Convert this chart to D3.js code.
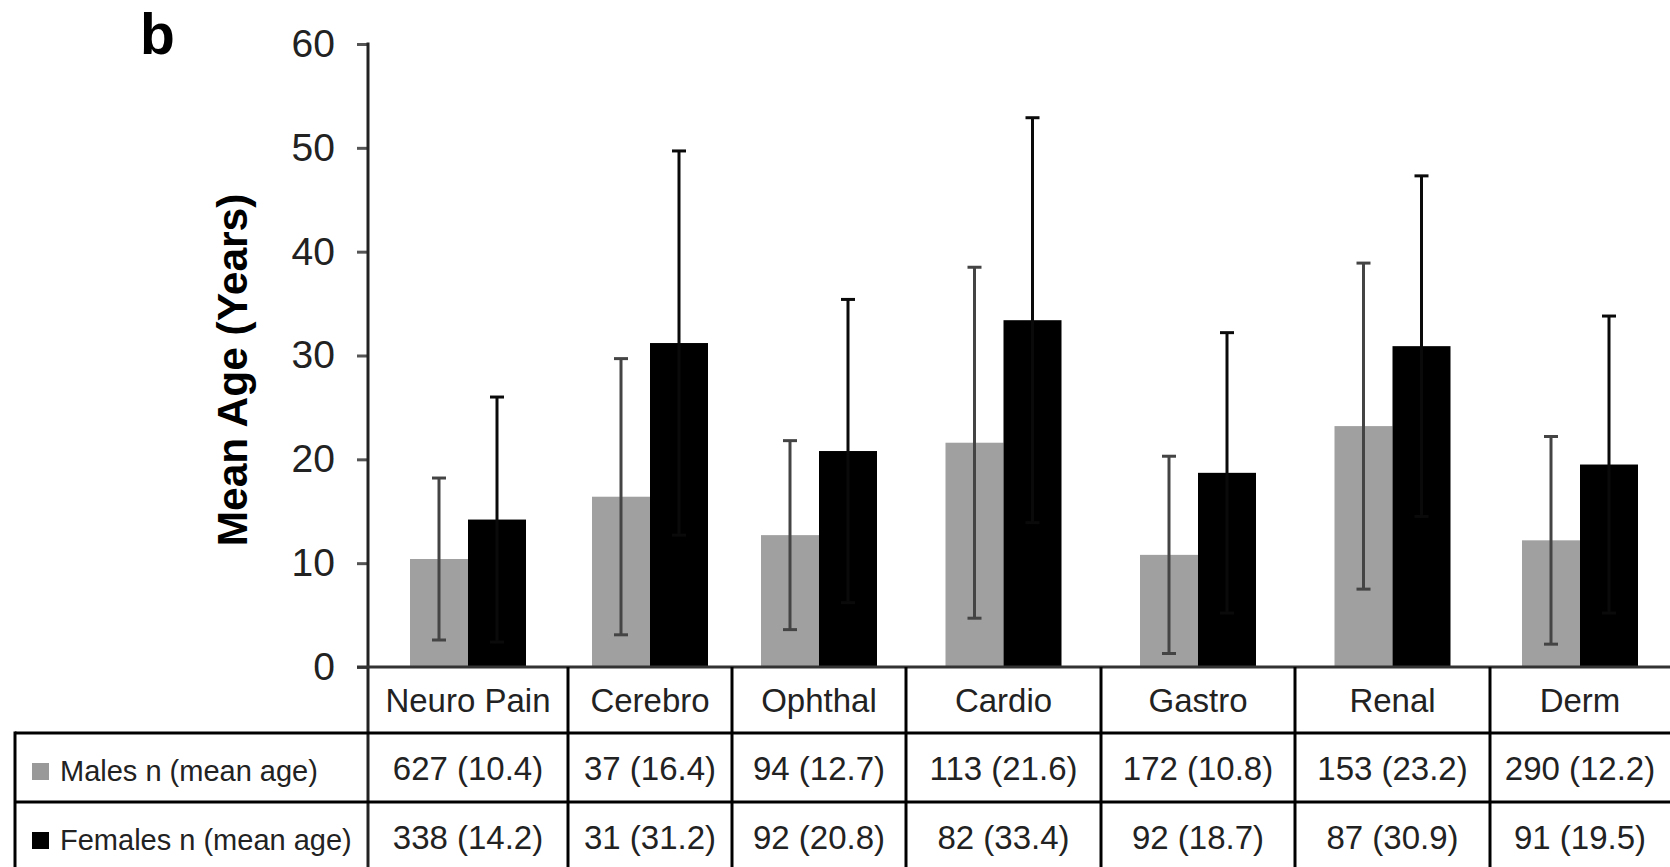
<!DOCTYPE html>
<html>
<head>
<meta charset="utf-8">
<script src="https://cdn.jsdelivr.net/npm/d3@7/dist/d3.min.js"></script>
<style>
  html, body { margin: 0; padding: 0; background: #fff; }
  svg { display: block; }
  text { font-family: "Liberation Sans", Arial, sans-serif; }
</style>
</head>
<body>
<svg id="chart" width="1670" height="867"></svg>
<script>
// ---------- data ----------
const categories = ["Neuro Pain", "Cerebro", "Ophthal", "Cardio", "Gastro", "Renal", "Derm"];
const maleN      = [627, 37, 94, 113, 172, 153, 290];
const maleMean   = [10.4, 16.4, 12.7, 21.6, 10.8, 23.2, 12.2];
const maleSD     = [7.8, 13.3, 9.1, 16.9, 9.5, 15.7, 10.0];
const femaleN    = [338, 31, 92, 82, 92, 87, 91];
const femaleMean = [14.2, 31.2, 20.8, 33.4, 18.7, 30.9, 19.5];
const femaleSD   = [11.8, 18.5, 14.6, 19.5, 13.5, 16.4, 14.3];
const yTicks     = [0, 10, 20, 30, 40, 50, 60];
const seriesNames = ["Males", "Females"];
const rowLabels  = ["Males n (mean age)", "Females n (mean age)"];

// ---------- layout ----------
const W = 1670, H = 867;
const axisX = 368, plotRight = 1670;
const yTop = 44, yBase = 667;
const colWidths = [200, 164, 174, 195, 194, 195, 180]; // table column widths (layout)
const headerBottom = 733, rowDivider = 802, tableLeft = 15;
const barW = 58;
const colors = { Males: "#a0a0a0", Females: "#000000" };
const errColors = { Males: "#444444", Females: "#0a0a0a" };

const svg = d3.select("#chart");
svg.append("rect").attr("width", W).attr("height", H).attr("fill", "#fff");

const y = d3.scaleLinear().domain([0, 60]).range([yBase, yTop]);
const edges = [0, ...d3.cumsum(colWidths)];
const xLin = d3.scaleLinear().domain([0, d3.sum(colWidths)]).range([axisX, plotRight]);
const colLeft = i => xLin(edges[i]);
const colRight = i => xLin(edges[i + 1]);
const colCenter = i => (colLeft(i) + colRight(i)) / 2;
const xSub = d3.scaleBand().domain(seriesNames).range([-barW, barW]).padding(0);

const data = categories.map((c, i) => ({
  cat: c, i,
  vals: [
    { s: "Males", mean: maleMean[i], sd: maleSD[i], n: maleN[i] },
    { s: "Females", mean: femaleMean[i], sd: femaleSD[i], n: femaleN[i] }
  ]
}));

// ---------- bars ----------
const g = svg.append("g");
const groups = g.selectAll("g.cat").data(data).join("g")
  .attr("class", "cat")
  .attr("transform", d => `translate(${colCenter(d.i)},0)`);

groups.selectAll("rect").data(d => d.vals).join("rect")
  .attr("x", d => xSub(d.s))
  .attr("width", xSub.bandwidth())
  .attr("y", d => y(d.mean))
  .attr("height", d => y(0) - y(d.mean))
  .attr("fill", d => colors[d.s]);

// ---------- error bars ----------
const cx = d => xSub(d.s) + xSub.bandwidth() / 2;
const eb = groups.selectAll("g.err").data(d => d.vals).join("g").attr("class", "err")
  .attr("stroke", d => errColors[d.s]).attr("stroke-width", 3);
eb.append("line")
  .attr("x1", cx).attr("x2", cx)
  .attr("y1", d => y(d.mean + d.sd))
  .attr("y2", d => y(Math.max(0, d.mean - d.sd)));
eb.append("line")
  .attr("x1", d => cx(d) - 7).attr("x2", d => cx(d) + 7)
  .attr("y1", d => y(d.mean + d.sd)).attr("y2", d => y(d.mean + d.sd));
eb.append("line")
  .attr("x1", d => cx(d) - 7).attr("x2", d => cx(d) + 7)
  .attr("y1", d => y(Math.max(0, d.mean - d.sd)))
  .attr("y2", d => y(Math.max(0, d.mean - d.sd)));

// ---------- y axis ----------
const yAxis = d3.axisLeft(y).tickValues(yTicks).tickSize(11).tickPadding(22).tickFormat(d3.format("d"));
const ya = svg.append("g").attr("transform", `translate(${axisX},0)`).call(yAxis);
ya.select(".domain").remove();
ya.selectAll(".tick line").attr("stroke", "#555").attr("stroke-width", 3);
ya.selectAll(".tick text").attr("font-size", 39).attr("fill", "#222")
  .attr("font-family", "'Liberation Sans', Arial, sans-serif");

// axis line (continues as table border)
svg.append("line").attr("x1", axisX).attr("x2", axisX).attr("y1", y(60) - 1.5).attr("y2", H)
  .attr("stroke", "#222").attr("stroke-width", 3);
// baseline
svg.append("line").attr("x1", axisX - 11).attr("x2", plotRight).attr("y1", y(0)).attr("y2", y(0))
  .attr("stroke", "#333").attr("stroke-width", 3);

// y title
svg.append("text")
  .attr("transform", `translate(247,370) rotate(-90)`)
  .attr("text-anchor", "middle")
  .attr("font-size", 42.5).attr("font-weight", "bold").attr("fill", "#000")
  .text("Mean Age (Years)");

// panel label
svg.append("text").attr("x", 140).attr("y", 54)
  .attr("font-size", 57).attr("font-weight", "bold").attr("fill", "#000").text("b");

// ---------- table ----------
const tg = svg.append("g").attr("stroke", "#000").attr("stroke-width", 3);
tg.selectAll("line.col").data(d3.range(1, categories.length)).join("line")
  .attr("class", "col")
  .attr("x1", i => colLeft(i)).attr("x2", i => colLeft(i))
  .attr("y1", y(0)).attr("y2", H);
tg.selectAll("line.row").data([headerBottom, rowDivider]).join("line")
  .attr("class", "row")
  .attr("x1", tableLeft).attr("x2", plotRight)
  .attr("y1", d => d).attr("y2", d => d);
tg.append("line").attr("x1", tableLeft).attr("x2", tableLeft).attr("y1", headerBottom - 1.5).attr("y2", H);

// header labels
svg.selectAll("text.hdr").data(data).join("text")
  .attr("class", "hdr")
  .attr("x", d => colCenter(d.i)).attr("y", 712)
  .attr("text-anchor", "middle").attr("font-size", 33).attr("fill", "#222")
  .text(d => d.cat);

// cell values
const rowBase = [780, 849];
seriesNames.forEach((s, r) => {
  svg.selectAll(`text.cell${r}`).data(data).join("text")
    .attr("class", `cell${r}`)
    .attr("x", d => colCenter(d.i)).attr("y", rowBase[r])
    .attr("text-anchor", "middle").attr("font-size", 33).attr("fill", "#222")
    .text(d => `${d.vals[r].n} (${d.vals[r].mean.toFixed(1)})`);
});

// row labels with legend keys
const legendY = [763, 832];
const labelBase = [781, 850];
seriesNames.forEach((s, r) => {
  svg.append("rect").attr("x", 32).attr("y", legendY[r]).attr("width", 17).attr("height", 17)
    .attr("fill", r === 0 ? "#999" : "#000");
  svg.append("text").attr("x", 60).attr("y", labelBase[r])
    .attr("font-size", 29).attr("fill", "#222").text(rowLabels[r]);
});
</script>
</body>
</html>
